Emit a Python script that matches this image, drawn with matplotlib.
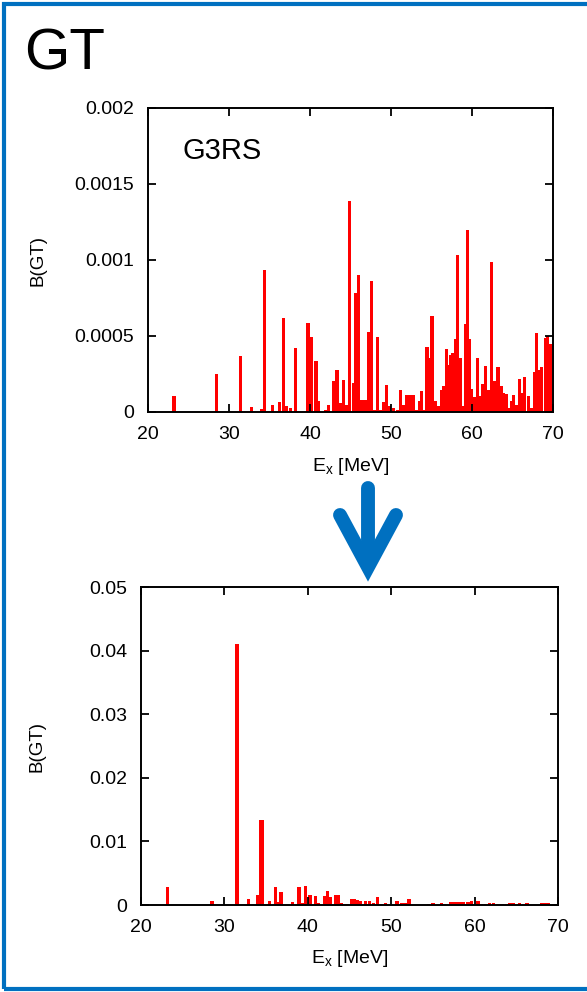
import matplotlib
matplotlib.use('Agg')
import matplotlib.pyplot as plt
from matplotlib.ticker import FormatStrFormatter, MultipleLocator
from matplotlib.lines import Line2D
from matplotlib.patches import Rectangle

plt.rcParams['font.family'] = ['Liberation Sans', 'DejaVu Sans']

# G3RS: excitation energy [MeV] and B(GT)
e_g3rs = [23.2, 28.5, 31.4, 32.8, 34.0, 34.4, 35.35, 36.2, 36.75, 37.1, 37.6, 38.2,
          39.75, 40.12, 40.74, 41.07, 41.9, 42.28, 42.9, 43.33, 43.77, 44.14, 44.51,
          44.92, 45.33, 45.66, 46.03, 46.42, 46.79, 47.18, 47.57, 47.96, 48.35, 48.74,
          49.12, 49.47, 49.84, 50.31, 50.76, 51.15, 51.54, 51.93, 52.33, 52.72, 53.13,
          53.5, 53.81, 54.12, 54.44, 54.75, 55.06, 55.47, 55.88, 56.21, 56.52, 56.81,
          57.1, 57.39, 57.65, 57.92, 58.21, 58.52, 58.85, 59.16, 59.47, 59.73, 59.98,
          60.27, 60.64, 61.03, 61.34, 61.65, 62.0, 62.41, 62.83, 63.2, 63.57, 63.9,
          64.22, 64.55, 64.84, 65.16, 65.53, 65.88, 66.17, 66.5, 66.97, 67.41, 67.7,
          67.94, 68.21, 68.62, 69.03, 69.32, 69.73]
b_g3rs = [0.000107, 0.000251, 0.000371, 0.000033, 0.00002, 0.000932, 0.000048, 0.000066,
          0.000618, 0.000037, 0.000024, 0.000419, 0.000585, 0.000491, 0.000338, 0.00007,
          0.000015, 0.000044, 0.000205, 0.000277, 0.000059, 0.00021, 0.000048, 0.00139,
          0.00019, 0.000786, 0.0009, 0.000081, 0.000081, 0.000524, 0.00086, 0.000015,
          0.000496, 0.000015, 0.000063, 0.000177, 0.000037, 0.000026, 0.000011, 0.000146,
          0.000046, 0.000109, 0.000109, 0.000115, 0.000013, 0.00007, 0.000135, 0.000015,
          0.000426, 0.000358, 0.000631, 0.000074, 0.000037, 0.000146, 0.000168, 0.000413,
          0.00031, 0.000375, 0.000386, 0.000478, 0.00103, 0.000354, 0.000037, 0.000579,
          0.0012, 0.000478, 0.000153, 0.000098, 0.000358, 0.000103, 0.000186, 0.000303,
          0.000146, 0.000985, 0.000201, 0.000293, 0.000168, 0.000124, 0.000116, 0.000026,
          0.000074, 0.000111, 0.000048, 0.000216, 0.000124, 0.000227, 0.000107, 0.000026,
          0.00026, 0.000517, 0.000277, 0.000293, 0.000485, 0.0005, 0.000445]

# lower panel
e_low = [23.2, 28.5, 31.5, 32.9, 34.0, 34.3, 34.6, 35.4, 36.15, 36.5, 36.8, 38.2, 38.95,
         39.4, 39.75, 40.25, 40.95, 41.3, 42.0, 42.35, 42.75, 43.4, 43.7, 44.0, 44.4,
         44.8, 45.3, 45.6, 45.95, 46.3, 46.9, 47.4, 47.9, 48.35, 48.9, 49.3, 50.7, 51.3,
         51.7, 52.15, 54.5, 55.0, 56.0, 56.4, 57.1, 57.5, 57.9, 58.3, 58.7, 59.2, 59.6,
         60.1, 60.4, 60.8, 61.3, 61.8, 62.3, 62.8, 63.3, 63.8, 64.2, 64.6, 65.0, 65.4,
         65.9, 66.3, 68.1, 68.5, 68.9, 69.3]
b_low = [0.0029, 0.0007, 0.0411, 0.0009, 0.0016, 0.0133, 0.0133, 0.0006, 0.0029, 0.0005,
         0.0021, 0.0004, 0.0028, 0.0003, 0.003, 0.0015, 0.0014, 0.0003, 0.0014, 0.0022,
         0.0012, 0.0016, 0.0016, 0.0003, 0.0002, 0.0002, 0.0009, 0.001, 0.0008, 0.0007,
         0.0007, 0.0007, 0.0003, 0.0012, 0.0002, 0.0003, 0.0007, 0.0003, 0.0003, 0.001,
         0.0002, 0.0003, 0.0003, 0.0002, 0.0004, 0.0005, 0.0004, 0.0005, 0.0004, 0.0005,
         0.0007, 0.0002, 0.0007, 0.0002, 0.0002, 0.0003, 0.0003, 0.0002, 0.0002, 0.0002,
         0.0003, 0.0003, 0.0002, 0.0003, 0.0002, 0.0003, 0.0003, 0.0003, 0.0003, 0.0002]

W, H = 587, 992
fig = plt.figure(figsize=(W / 100, H / 100), dpi=100)


def px(x, y):
    return x / W, 1 - y / H


def style(ax, ymax, ystep):
    ax.set_xlim(20, 70)
    ax.set_ylim(0, ymax)
    ax.xaxis.set_major_locator(MultipleLocator(10))
    ax.yaxis.set_major_locator(MultipleLocator(ystep))
    ax.yaxis.set_major_formatter(FormatStrFormatter('%g'))
    ax.tick_params(direction='in', length=6, width=1.3, top=True, right=True,
                   labelsize=14, pad=10, colors='black')
    for s in ax.spines.values():
        s.set_linewidth(1.4)
    ax.set_xlabel(r'E$_\mathregular{x}$ [MeV]', fontsize=14)
    ax.set_ylabel('B(GT)', fontsize=13.5)


ax1 = fig.add_axes([148 / W, 1 - 412 / H, 405 / W, 304 / H])
ax1.bar(e_g3rs, b_g3rs, width=0.4, color='#ff0000', linewidth=0)
style(ax1, 0.002, 0.0005)
ax1.xaxis.set_label_coords(0.5, -0.145)
ax1.yaxis.set_label_coords(-0.25, 0.5)
ax1.text(0.085, 0.86, 'G3RS', transform=ax1.transAxes, fontsize=21, va='center')

ax2 = fig.add_axes([141 / W, 1 - 905 / H, 417 / W, 318 / H])
ax2.bar(e_low, b_low, width=0.4, color='#ff0000', linewidth=0)
style(ax2, 0.05, 0.01)
ax2.xaxis.set_label_coords(0.5, -0.135)
ax2.yaxis.set_label_coords(-0.23, 0.5)

# panel title
fig.text(*px(24, 54), 'GT', fontsize=42, va='center', ha='left',
         family=['Liberation Sans Narrow', 'Liberation Sans'])

# frame
fig.add_artist(Rectangle(px(4, 989), (W + 10) / W, 985 / H, transform=fig.transFigure,
                         fill=False, edgecolor='#0070C0', linewidth=3, clip_on=False))

# down arrow between the panels
blue = '#0070C0'
for xs, ys in [([368, 368], [488, 562]), ([340, 368, 396], [515, 567, 515])]:
    pts = [px(x, y) for x, y in zip(xs, ys)]
    fig.add_artist(Line2D([p[0] for p in pts], [p[1] for p in pts], color=blue,
                          linewidth=10, solid_capstyle='round', solid_joinstyle='miter',
                          transform=fig.transFigure))

fig.savefig('out.png', dpi=100)
